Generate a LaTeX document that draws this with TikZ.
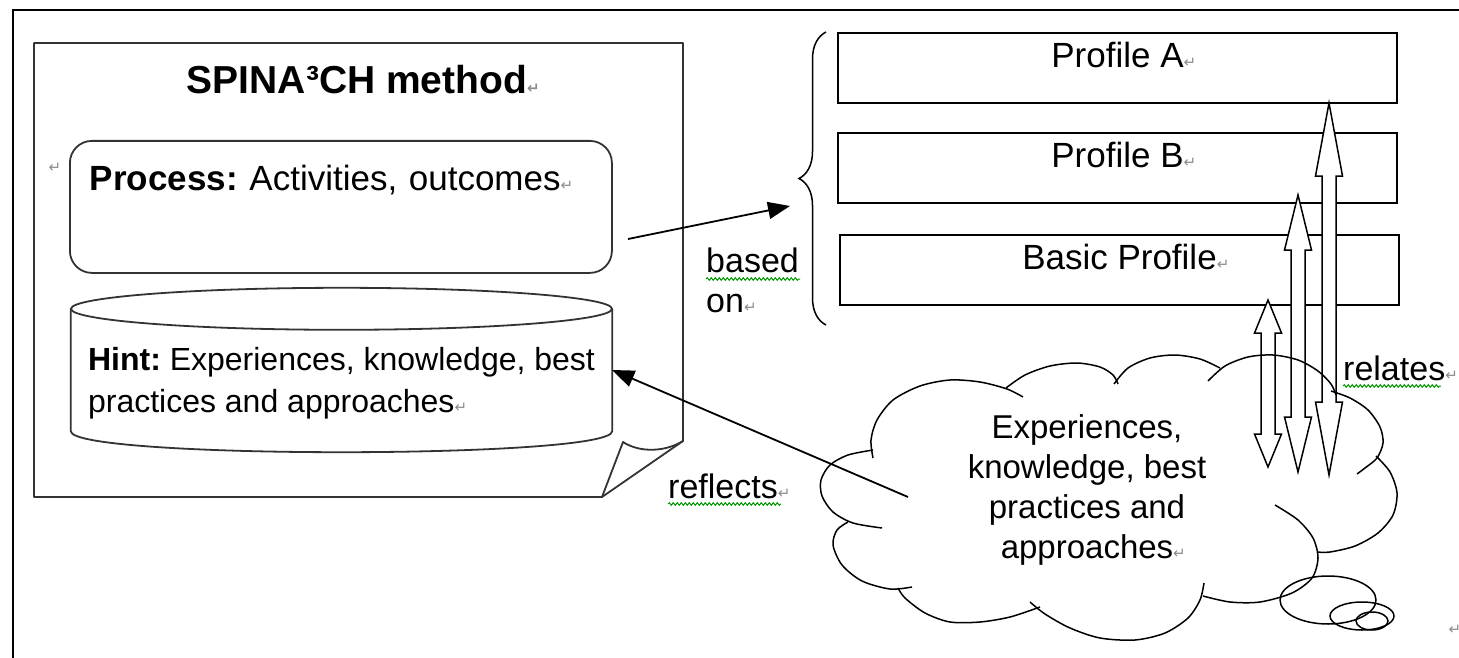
\documentclass[tikz,border=0pt]{standalone}
\usepackage{fontspec}
\setmainfont{Liberation Sans}
\newfontfamily\markfont{DejaVu Sans}
\usetikzlibrary{arrows.meta}
\usetikzlibrary{positioning}
\usetikzlibrary{decorations.pathreplacing,decorations.pathmorphing}
\frenchspacing
\newcommand\pmark{\rlap{\markfont\fontsize{15}{15}\selectfont\color{black!45}↵}}
\newcommand\relarrow[4]{%
	\draw[relshape] (#1,#2) -- (#1+13.5,#2+#4) -- (#1+7,#2+#4) -- (#1+7,#3-#4) -- (#1+13.5,#3-#4) -- (#1,#3)
		-- (#1-13.5,#3-#4) -- (#1-7,#3-#4) -- (#1-7,#2+#4) -- (#1-13.5,#2+#4) -- cycle;}
\tikzset{
	outline/.style={draw=black!80, line width=1.8pt},
	procbox/.style={outline, rounded corners=22pt, minimum width=542pt, text width=502pt, align=left,
		inner xsep=20pt, inner ysep=20pt, text height=30pt, text depth=62pt, font=\fontsize{35}{40}\selectfont},
	hintbox/.style={minimum width=541pt, align=left, inner xsep=0pt, inner ysep=0pt,
		text height=103pt, text depth=19pt, font=\fontsize{32}{42}\selectfont},
	profile/.style={draw, line width=1.8pt, minimum width=559pt, text height=30pt, text depth=30pt,
		inner ysep=5pt, font=\fontsize{35}{40}\selectfont},
	labeltext/.style={inner sep=0pt, font=\fontsize{34}{40}\selectfont},
	cloudtext/.style={align=center, font=\fontsize{33}{40}\selectfont},
	markstyle/.style={inner sep=0pt, font=\markfont\fontsize{15}{15}\selectfont, text=black!45},
	arrow/.style={draw, line width=1.8pt, -{Triangle[length=22pt, width=17pt]}},
	relshape/.style={draw, line width=1.5pt, fill=white, line join=miter},
	cloudline/.style={draw, line width=1.5pt},
	profbrace/.style={draw, line width=1.5pt, decorate, decoration={brace, amplitude=27pt}},
	spell/.style={draw=green!60!black, line width=1pt, decorate, decoration={snake, amplitude=1.3pt, segment length=4pt}}
}

\begin{document}
\begin{tikzpicture}[x=1pt, y=-1pt]
\useasboundingbox (0,0) rectangle (1459,658);
\draw[line width=2pt] (13,10) rectangle (1500,700);

% method document
\draw[outline, line join=round] (34,43) -- (683,43) -- (683,441) -- (602,497) -- (34,497) -- cycle;
\draw[outline, line join=round] (602,497) -- (623,442) .. controls (640,453) and (665,452) .. (683,441);
\node[font=\bfseries\fontsize{39}{44}\selectfont] (title) at (357,80) {SPINA³CH method\pmark};

\node[markstyle] (mark1) at (55,168) {↵};
\node[procbox, anchor=north west] (proc) at (69,140) {\textbf{Process:} Activities, outcomes\pmark};

\node[hintbox] (hint) at (341.5,370) {\textbf{Hint:} Experiences, knowledge, best\\practices and approaches\pmark};
\draw[outline] (hint.north west) -- (hint.south west) .. controls +(0,28) and +(0,28) .. (hint.south east) -- (hint.north east);
\draw[outline] (hint.north) ellipse [x radius=270.5, y radius=21];

% profiles
\node[profile] (profA) at (1117.5,68) {Profile A\pmark};
\node[profile, below=28pt of profA] (profB) {Profile B\pmark};
\node[profile, below=30pt of profB, xshift=2pt] (basic) {Basic Profile\pmark};

\coordinate (bracetop) at (826,32);
\coordinate (bracebot) at (826,325);
\draw[profbrace] (bracebot) -- (bracetop);

\node[labeltext, anchor=north west, align=left] (based) at (706,248) {based\\on\pmark};
\draw[spell] (706,279) -- (800,279);

\coordinate (procout) at (628,239);
\coordinate (basedtip) at (790,206);
\draw[arrow] (procout) -- (basedtip);

% relates arrows
\relarrow{1268}{300}{467}{33}
\relarrow{1298}{195}{472}{55}
\relarrow{1329}{103}{475}{73}
\node[labeltext, anchor=base west] (relates) at (1343,380) {relates\pmark};
\draw[spell] (1343,386) -- (1441,386);

% cloud
\draw[cloudline] plot[smooth] coordinates {(873,458) (871,440) (877,420) (893,400) (920,386) (950,380) (980,382) (1007,389) (1023,397)};
\draw[cloudline] plot[smooth] coordinates {(1006,388) (1025,375) (1050,366) (1077,363) (1100,367) (1113,375) (1118,384)};
\draw[cloudline] plot[smooth] coordinates {(1114,384) (1128,368) (1150,358) (1175,355) (1200,359) (1220,368)};
\draw[cloudline] plot[smooth] coordinates {(1208,381) (1225,366) (1248,357) (1273,355) (1298,360) (1318,371) (1331,384) (1336,395)};
\draw[cloudline] plot[smooth] coordinates {(1331,391) (1350,398) (1368,410) (1380,427) (1383,443) (1377,458) (1365,468) (1357,474)};
\draw[cloudline] plot[smooth] coordinates {(1376,456) (1390,472) (1397,493) (1393,515) (1378,533) (1355,546) (1330,552) (1317,552)};
\draw[cloudline] plot[smooth] coordinates {(1275,505) (1298,520) (1313,538) (1318,558) (1312,578) (1292,593) (1260,602) (1230,602) (1203,596)};
\draw[cloudline] plot[smooth] coordinates {(1204,583) (1200,600) (1188,618) (1165,633) (1135,640) (1100,638) (1070,628) (1045,614) (1030,602)};
\draw[cloudline] plot[smooth] coordinates {(1040,607) (1010,617) (980,622) (950,622) (925,613) (905,598) (898,588)};
\draw[cloudline] plot[smooth] coordinates {(912,587) (890,589) (862,581) (842,565) (833,545) (837,530) (848,522)};
\draw[cloudline] plot[smooth] coordinates {(882,528) (853,523) (833,512) (822,496) (821,480) (830,465) (848,455) (873,450)};
\draw[cloudline] (1328,600) ellipse [x radius=48, y radius=24];
\draw[cloudline] (1362,616) ellipse [x radius=32, y radius=14];
\draw[cloudline] (1372,621) ellipse [x radius=16, y radius=9];
\node[cloudtext] (cloudtxt) at (1087,490) {Experiences,\\knowledge, best\\practices and\\approaches\pmark};

\coordinate (cloudin) at (908,497);
\draw[arrow] (cloudin) -- (hint.east);
\node[labeltext, anchor=base west] (reflects) at (668,498) {reflects\pmark};
\draw[spell] (668,504) -- (781,504);

\node[markstyle] (mark2) at (1455,630) {↵};
\end{tikzpicture}
\end{document}
